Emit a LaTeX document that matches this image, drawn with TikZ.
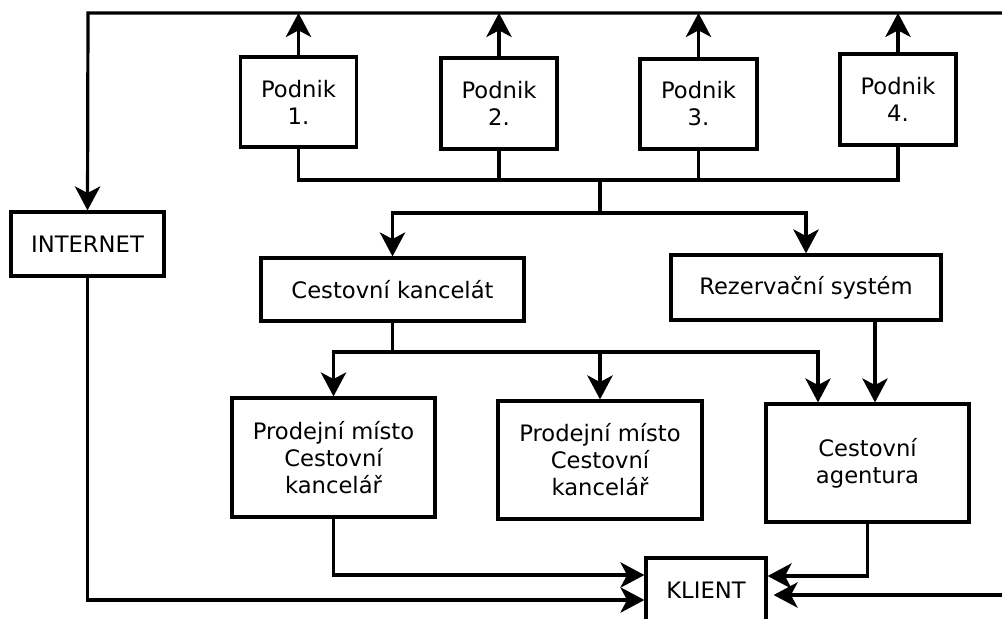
\documentclass[tikz,border=0pt]{standalone}
\usepackage{fontspec}
\setmainfont{DejaVu Sans}
\usepackage{tikz}
\usetikzlibrary{arrows.meta}
\usetikzlibrary{calc}
\tikzstyle{NodeBox}=[draw,rectangle,line width=2.4pt,align=center,inner sep=0pt,
font=\fontsize{17}{20.3}\selectfont]
\tikzstyle{EdgeLine}=[line width=2.4pt]
\tikzstyle{EdgeArrow}=[line width=2.4pt,-{Stealth[length=18pt,width=19pt,inset=5pt]}]
\begin{document}
\begin{tikzpicture}[x=0.75pt,y=-0.75pt]
        \useasboundingbox(0,0)rectangle(1002,618);
        \node[NodeBox,minimum width=153*0.75pt,minimum height=64*0.75pt](inet)at(87.5,244){INTERNET};
        \node[NodeBox,minimum width=116*0.75pt,minimum height=90*0.75pt](p1)at(298.5,102){Podnik\\1.};
        \node[NodeBox,minimum width=116*0.75pt,minimum height=91*0.75pt](p2)at(499,103.5){Podnik\\2.};
        \node[NodeBox,minimum width=117*0.75pt,minimum height=90*0.75pt](p3)at(698.5,104){Podnik\\3.};
        \node[NodeBox,minimum width=116*0.75pt,minimum height=91*0.75pt](p4)at(898,99.5){Podnik\\4.};
        \node[NodeBox,minimum width=263*0.75pt,minimum height=63*0.75pt](ck)at(392.5,289.5){Cestovní kancelát};
        \node[NodeBox,minimum width=270*0.75pt,minimum height=65*0.75pt](rs)at(806,287.5){Rezervační systém};
        \node[NodeBox,minimum width=203*0.75pt,minimum height=119*0.75pt](pm1)at(333.5,457.5){Prodejní místo\\Cestovní\\kancelář};
        \node[NodeBox,minimum width=204*0.75pt,minimum height=118*0.75pt](pm2)at(600,460){Prodejní místo\\Cestovní\\kancelář};
        \node[NodeBox,minimum width=203*0.75pt,minimum height=118*0.75pt](ca)at(867.5,463){Cestovní\\agentura};
        \node[NodeBox,minimum width=120*0.75pt,minimum height=64*0.75pt](kl)at(706,590){KLIENT};
        % top line and the firms
        \coordinate(tl)at(88,13);
        \coordinate(tr)at(1010,13);
        \draw[EdgeArrow](tr)--(tl)--(inet.north);
        \draw[EdgeArrow](p1.north)--(p1.north|-tl);
        \draw[EdgeArrow](p2.north)--(p2.north|-tl);
        \draw[EdgeArrow](p3.north)--(p3.north|-tl);
        \draw[EdgeArrow](p4.north)--(p4.north|-tl);
        \coordinate(bus)at(600,180);
        \draw[EdgeLine](p1.south)|-(p4.south|-bus)--(p4.south);
        \draw[EdgeLine](p2.south)--(p2.south|-bus);
        \draw[EdgeLine](p3.south)--(p3.south|-bus);
        \coordinate(split1)at(600,213);
        \draw[EdgeLine](bus)--(split1);
        \draw[EdgeArrow](split1)-|(ck.north);
        \draw[EdgeArrow](split1)-|(rs.north);
        % second level
        \coordinate(split2)at(392.5,352);
        \draw[EdgeLine](ck.south)--(split2);
        \draw[EdgeArrow](split2)-|(pm1.north);
        \draw[EdgeArrow](split2)-|(pm2.north);
        \coordinate(caL)at(818,352);
        \draw[EdgeArrow](split2)--(caL)--(caL|-ca.north);
        \coordinate(rsOut)at(875,320);
        \draw[EdgeArrow](rsOut|-rs.south)--(rsOut|-ca.north);
        % to the client
        \draw[EdgeArrow](inet.south)|-($(kl.west)+(0,10)$);
        \draw[EdgeArrow](pm1.south)|-($(kl.west)+(0,-15)$);
        \draw[EdgeArrow](ca.south)|-($(kl.east)+(0,-14)$);
        \coordinate(br)at(1010,595);
        \draw[EdgeArrow](br)--($(kl.east)+(6,5)$);
    \end{tikzpicture}
\end{document}
